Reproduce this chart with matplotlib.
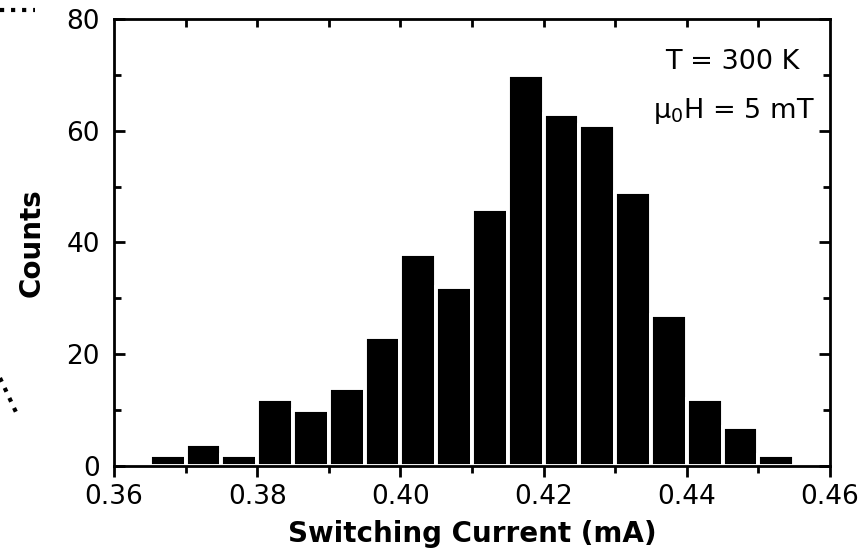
import numpy as np
import matplotlib
matplotlib.use("Agg")
import matplotlib.pyplot as plt
from matplotlib.lines import Line2D
from matplotlib.ticker import MultipleLocator, FormatStrFormatter

plt.rcParams['font.family'] = ['DejaVu Sans']
plt.rcParams['mathtext.default'] = 'regular'

# histogram bins (mA) and counts
bin_left = [0.365, 0.370, 0.375, 0.380, 0.385, 0.390, 0.395, 0.400, 0.405,
            0.410, 0.415, 0.420, 0.425, 0.430, 0.435, 0.440, 0.445, 0.450]
counts = [2, 4, 2, 12, 10, 14, 23, 38, 32, 46, 70, 63, 61, 49, 27, 12, 7, 2]
bin_width = 0.005

fig = plt.figure(figsize=(8.66, 5.55), dpi=100)
ax = fig.add_axes([0.1316, 0.1604, 0.8268, 0.8054])

ax.bar(bin_left, counts, width=bin_width, align='edge', color='black',
       edgecolor='white', linewidth=2.8, zorder=1)

ax.set_xlim(0.36, 0.46)
ax.set_ylim(0, 80)
ax.xaxis.set_major_locator(MultipleLocator(0.02))
ax.xaxis.set_minor_locator(MultipleLocator(0.01))
ax.yaxis.set_major_locator(MultipleLocator(20))
ax.yaxis.set_minor_locator(MultipleLocator(10))
ax.xaxis.set_major_formatter(FormatStrFormatter('%.2f'))

# left/right/top ticks inward, bottom ticks outward
ax.tick_params(axis='y', which='both', direction='in', right=True, width=2,
               labelsize=19, pad=10)
ax.tick_params(axis='x', which='both', direction='out', width=2,
               labelsize=19, pad=5)
ax.tick_params(axis='y', which='major', length=8)
ax.tick_params(axis='y', which='minor', length=5)
ax.tick_params(axis='x', which='major', length=8)
ax.tick_params(axis='x', which='minor', length=5)
# top ticks pointing inward
for xt in np.arange(0.37, 0.455, 0.01):
    ax.plot([xt, xt], [80, 80 - 80 * 8 / 447], color='black', lw=2,
            zorder=6, clip_on=False, solid_capstyle='butt')
for s in ax.spines.values():
    s.set_linewidth(2)
    s.set_zorder(5)

ax.set_xlabel('Switching Current (mA)', fontsize=20, fontweight='bold', labelpad=7)
ax.set_ylabel('Counts', fontsize=20, fontweight='bold', labelpad=15)

ax.text(0.958, 0.904, 'T = 300 K', transform=ax.transAxes, ha='right',
        va='center', fontsize=19.5)
ax.text(0.979, 0.795, r'$\mu_0$H = 5 mT', transform=ax.transAxes, ha='right',
        va='center', fontsize=19.5)

# dotted guide remnants from neighbouring panel
fig.add_artist(Line2D([0.0, 0.04], [0.982, 0.982], transform=fig.transFigure,
                      color='black', linestyle=':', linewidth=3))
fig.add_artist(Line2D([0.0, 0.021], [0.319, 0.249], transform=fig.transFigure,
                      color='black', linestyle=':', linewidth=3))

fig.savefig('out.png', dpi=100)
